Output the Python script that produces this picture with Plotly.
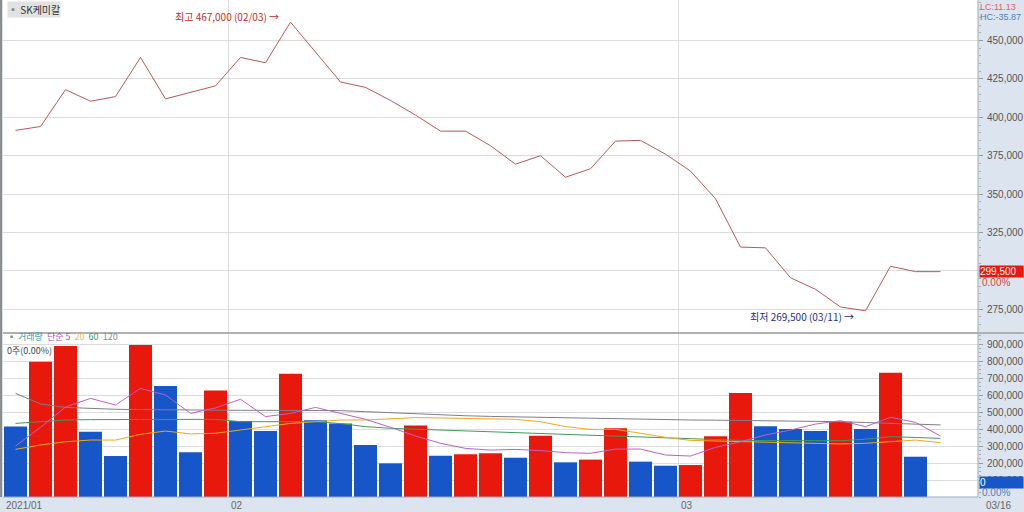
import plotly.graph_objects as go

# trading days shown (2021/01/19 .. 03/16)
dates = [
    "01/19", "01/20", "01/21", "01/22", "01/25", "01/26", "01/27", "01/28", "01/29",
    "02/01", "02/02", "02/03", "02/04", "02/05", "02/08", "02/09", "02/10", "02/15",
    "02/16", "02/17", "02/18", "02/19", "02/22", "02/23", "02/24", "02/25", "02/26",
    "03/02", "03/03", "03/04", "03/05", "03/08", "03/09", "03/10", "03/11", "03/12",
    "03/15", "03/16",
]
close = [
    391500, 394000, 418000, 410500, 413500, 439000, 412000, 416500, 420500,
    439000, 435500, 462000, 442500, 423000, 419500, 411000, 401500, 391000,
    391000, 381500, 369500, 375000, 361000, 366500, 384500, 385000, 376000,
    365000, 347000, 315500, 315000, 295500, 288000, 276500, 274000, 303000,
    299500, 299500,
]
volume = [
    414000, 796000, 888000, 384000, 241000, 894000, 653000, 263000, 627000,
    447000, 388000, 725000, 451000, 433000, 306000, 198000, 420000, 243000,
    251000, 257000, 231000, 361000, 204000, 220000, 404000, 208000, 184000,
    188000, 357000, 612000, 416000, 400000, 388000, 443000, 400000, 731000,
    237000, 0,
]
ma5 = [
    300000, 410000, 529000, 580000, 541000, 639000, 600000, 492000, 524000,
    575000, 473000, 492000, 527000, 492000, 457000, 410000, 359000, 316000,
    286000, 276000, 280000, 273000, 261000, 257000, 282000, 282000, 247000,
    241000, 292000, 325000, 365000, 394000, 429000, 449000, 414000, 469000,
    439000, 359000,
]
ma20 = [
    280000, 306000, 325000, 335000, 335000, 369000, 388000, 371000, 375000,
    394000, 414000, 433000, 443000, 453000, 453000, 460000, 467000, 465000,
    463000, 460000, 457000, 443000, 414000, 398000, 398000, 375000, 351000,
    333000, 329000, 325000, 322000, 318000, 316000, 312000, 316000, 325000,
    335000, 320000,
]
ma60 = [
    433000, 443000, 453000, 455000, 456000, 457000, 457000, 457000, 457000,
    443000, 443000, 443000, 443000, 432000, 414000, 404000, 399000, 394000,
    388000, 381000, 375000, 370000, 365000, 362000, 359000, 354000, 349000,
    342000, 335000, 333000, 332000, 331000, 331000, 331000, 340000, 355000,
    350000, 345000,
]
ma120 = [
    610000, 547000, 527000, 520000, 516000, 514000, 512000, 511000, 511000,
    510000, 510000, 509000, 509000, 508000, 502000, 495000, 488000, 482000,
    478000, 474000, 471000, 469000, 466000, 462000, 459000, 456000, 453000,
    453000, 452000, 451000, 450000, 449000, 447000, 443000, 438000, 433000,
    428000, 424000,
]
price_ticks = [275000, 300000, 325000, 350000, 375000, 400000, 425000, 450000]
price_tick_text = ["275,000", "", "325,000", "350,000", "375,000", "400,000", "425,000", "450,000"]
vol_ticks = [100000, 200000, 300000, 400000, 500000, 600000, 700000, 800000, 900000]
month_labels = ["2021/01", "02", "03"]

RED = "#e8180c"
BLUE = "#1656c8"
FONT = "Liberation Sans Narrow, Liberation Sans, Arial"
KFONT = "Noto Sans CJK KR"

x = list(range(len(dates)))
bar_colors = [BLUE] + [RED if volume[i] > volume[i - 1] else BLUE for i in range(1, len(volume))]

fig = go.Figure()
fig.add_trace(go.Scatter(x=x, y=close, mode="lines", line=dict(color="#b9585a", width=1),
                         xaxis="x", yaxis="y", hoverinfo="skip"))
fig.add_trace(go.Bar(x=x[:-1], y=volume[:-1], marker=dict(color=bar_colors[:-1], line=dict(width=0)),
                     xaxis="x2", yaxis="y2"))
for vals, col in [(ma120, "#7d7d8c"), (ma60, "#3f9a5c"), (ma20, "#f0a81c"), (ma5, "#c060c8")]:
    fig.add_trace(go.Scatter(x=x, y=vals, mode="lines", line=dict(color=col, width=1),
                             xaxis="x2", yaxis="y2", hoverinfo="skip"))

xcommon = dict(range=[-0.5, 38.5], tickvals=[8.5, 26.5], showticklabels=False, automargin=False,
               showgrid=True, gridcolor="#dcdcdc", gridwidth=1, zeroline=False, fixedrange=True)
ycommon = dict(side="right", ticks="outside", ticklen=4, tickcolor="#999", showgrid=True,
               gridcolor="#dcdcdc", zeroline=False, automargin=False, ticklabelstandoff=2,
               tickfont=dict(family=FONT, size=10, color="#555"))
fig.update_layout(
    template="none",
    width=1024, height=512,
    margin=dict(l=3, r=46, t=0, b=15),
    paper_bgcolor="#dce5ef",
    plot_bgcolor="white",
    showlegend=False,
    bargap=0.08,
    font=dict(family=FONT, size=10, color="#555"),
    xaxis=dict(**xcommon, anchor="y"),
    xaxis2=dict(**xcommon, anchor="y2", matches="x"),
    yaxis=dict(**ycommon, domain=[0.332, 1], range=[260200, 476400],
               tickvals=price_ticks, ticktext=price_tick_text,
               minor=dict(ticks="outside", ticklen=2, dtick=5000, tickcolor="#aaa", showgrid=False)),
    yaxis2=dict(**ycommon, domain=[0, 0.328], range=[0, 959000],
                tickvals=vol_ticks, tickformat=",d",
                minor=dict(ticks="outside", ticklen=2, dtick=25000, tickcolor="#aaa", showgrid=False)),
)

# borders / separators
fig.add_shape(type="line", xref="paper", yref="paper", x0=-0.002, x1=-0.002, y0=0, y1=1,
              line=dict(color="#8a8a8a", width=2))
fig.add_shape(type="line", xref="paper", yref="paper", x0=0, x1=1.047, y0=0.330, y1=0.330,
              line=dict(color="#b0b0b0", width=2))
fig.add_shape(type="line", xref="paper", yref="paper", x0=0, x1=1, y0=0, y1=0,
              line=dict(color="#9aaabb", width=1))
fig.add_shape(type="line", xref="paper", yref="paper", x0=1, x1=1, y0=0, y1=1,
              line=dict(color="#9aaabb", width=1))

ann = []
# titles
ann.append(dict(xref="paper", yref="paper", x=0.004, y=0.998, xanchor="left", yanchor="top",
                text="<span style='color:#888'>▪</span> SK케미칼", showarrow=False,
                bgcolor="#e2e2e2", font=dict(family=KFONT, size=10, color="#333"), borderpad=0))
ann.append(dict(xref="paper", yref="paper", x=0.002, y=0.322, xanchor="left", yanchor="middle",
                text="<span style='color:#888'>▪</span> <span style='color:#3a9aa6'>거래량</span>  "
                     "<span style='color:#b04cc0'>단순 5</span>  <span style='color:#e8c040'>20</span>  "
                     "<span style='color:#3f9a5c'>60</span>  <span style='color:#8a8a9a'>120</span>",
                showarrow=False, font=dict(family=KFONT, size=9)))
ann.append(dict(xref="paper", yref="paper", x=0.002, y=0.295, xanchor="left", yanchor="middle",
                text="0주(0.00%)", showarrow=False, font=dict(family=KFONT, size=9, color="#444")))

# high / low
i_hi = close.index(max(close))
i_lo = close.index(min(close))
ann.append(dict(x=i_hi, y=max(close), xref="x", yref="y", xanchor="right", yanchor="middle",
                xshift=-10, yshift=6, showarrow=False, text="최고 467,000 (" + dates[i_hi] + ") →",
                font=dict(family=KFONT, size=10, color="#c0302c")))
ann.append(dict(x=i_lo, y=min(close), xref="x", yref="y", xanchor="right", yanchor="middle",
                xshift=-10, yshift=-6, showarrow=False, text="최저 269,500 (" + dates[i_lo] + ") →",
                font=dict(family=KFONT, size=10, color="#1c2f8c")))

# right side labels
ann.append(dict(xref="paper", yref="paper", x=1.0, y=1.0, xanchor="left", yanchor="top",
                text="LC:11.13", showarrow=False, font=dict(family=FONT, size=9, color="#e06060")))
ann.append(dict(xref="paper", yref="paper", x=1.0, y=0.98, xanchor="left", yanchor="top",
                text="HC:-35.87", showarrow=False, font=dict(family=FONT, size=9, color="#4a7fc0")))
ann.append(dict(xref="paper", x=1.001, y=close[-1], yref="y", xanchor="left", yanchor="middle",
                width=43, align="left", text="299,500", showarrow=False, bgcolor=RED, borderpad=0,
                font=dict(family=FONT, size=10, color="white")))
ann.append(dict(xref="paper", x=1.002, y=close[-1], yref="y", xanchor="left", yanchor="middle",
                yshift=-11, text="0.00%", showarrow=False, font=dict(family=FONT, size=10, color="#e04040")))
ann.append(dict(xref="paper", x=1.001, y=volume[-1], yref="y2", xanchor="left", yanchor="bottom",
                width=43, align="left", yshift=8, text="0", showarrow=False, bgcolor=BLUE, borderpad=0,
                font=dict(family=FONT, size=10, color="white")))
ann.append(dict(xref="paper", x=1.002, y=volume[-1], yref="y2", xanchor="left", yanchor="bottom",
                yshift=-3, text="0.00%", showarrow=False, font=dict(family=FONT, size=10, color="#4a7fc0")))

# x-axis month labels
for xv, lab in zip([-0.5, 8.5, 26.5], month_labels):
    ann.append(dict(x=xv, y=0, xref="x2", yref="paper", xanchor="left", yanchor="top", xshift=1,
                    yshift=-1, text=lab, showarrow=False, font=dict(family=FONT, size=10, color="#666")))
ann.append(dict(xref="paper", yref="paper", x=1.006, y=0, xanchor="left", yanchor="top", yshift=-1,
                text=dates[-1], showarrow=False, font=dict(family=FONT, size=10, color="#666")))

fig.update_layout(annotations=ann)
fig.write_html("out.html", config={"displayModeBar": False},
               post_script="document.body.style.margin='0';document.body.style.overflow='hidden';")
